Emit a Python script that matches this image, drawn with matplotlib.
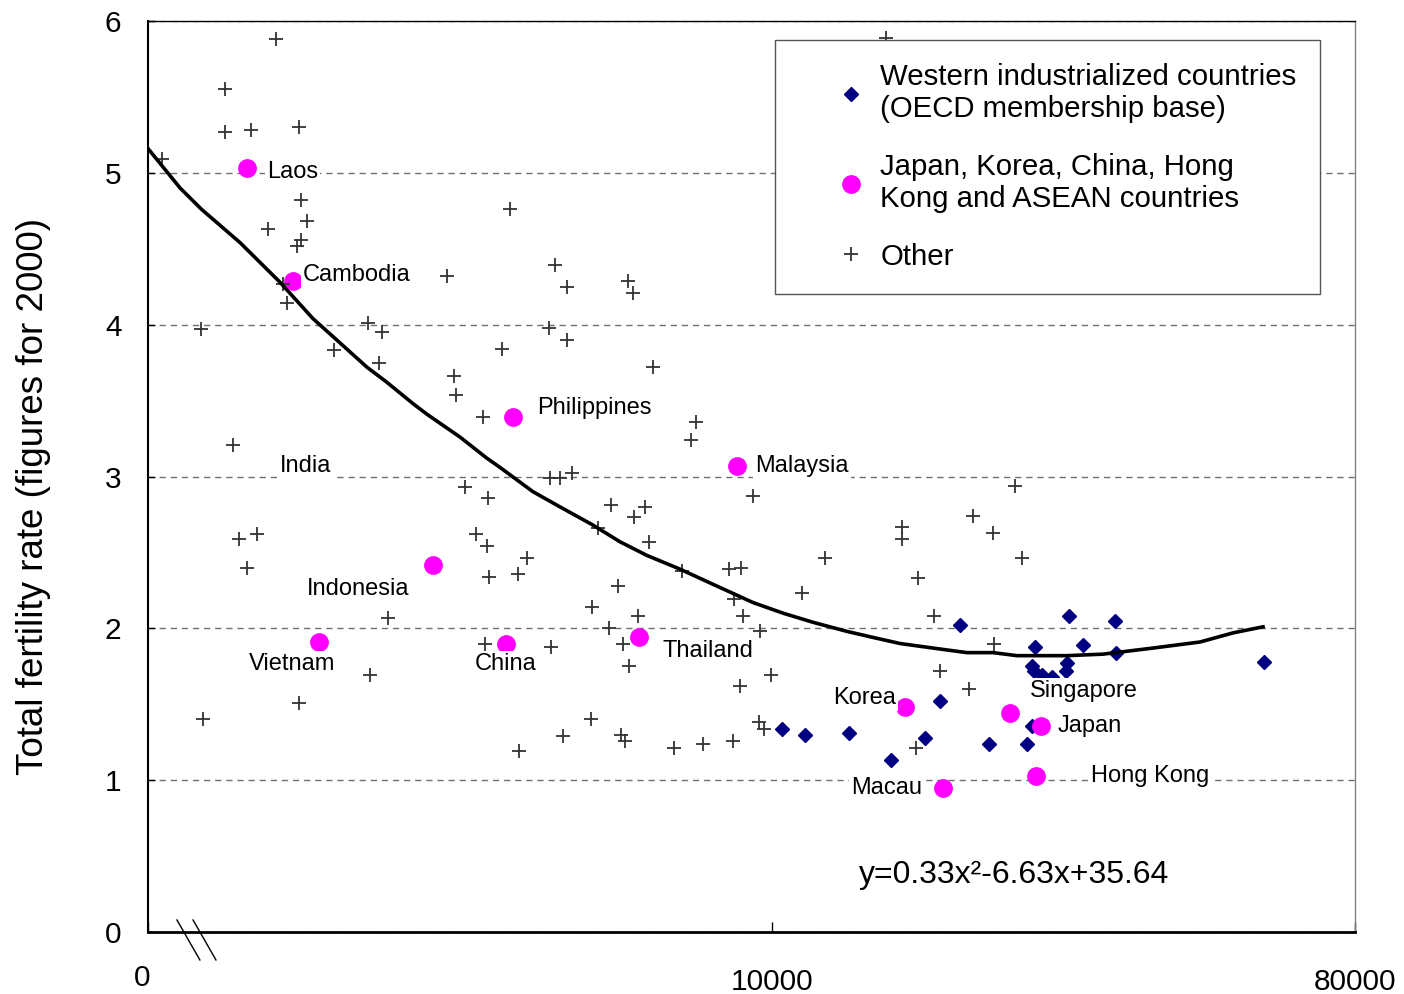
import numpy as np
import matplotlib
matplotlib.use('Agg')
import matplotlib.pyplot as plt
from matplotlib.ticker import NullLocator
from matplotlib.transforms import ScaledTranslation

plt.rcParams['font.family'] = ['Liberation Sans', 'DejaVu Sans']

# GDP per capita (PPP, log axis) and total fertility rate, 2000
west_gdp = [10360, 11250, 13160, 15290, 17260, 18200, 19550, 28840, 33990, 25550,
            30320, 34110, 25280, 25460, 28640, 28530, 26200, 27150, 21680, 24830,
            25280, 57830]
west_tfr = [1.34, 1.30, 1.31, 1.13, 1.28, 1.52, 2.02, 2.08, 2.05, 1.88,
            1.89, 1.84, 1.75, 1.72, 1.77, 1.72, 1.69, 1.68, 1.24, 1.24,
            1.36, 1.78]

asia_names = ['Laos', 'Cambodia', 'Philippines', 'India', 'Malaysia', 'Indonesia',
              'Vietnam', 'China', 'Thailand', 'Korea', 'Singapore', 'Japan',
              'Hong Kong', 'Macau']
asia_gdp = [1538, 1811, 3970, 1890, 8826, 2984, 1987, 3872, 6223, 16070, 23370,
            26100, 25650, 18400]
asia_tfr = [5.03, 4.29, 3.39, 3.06, 3.07, 2.42, 1.91, 1.90, 1.94, 1.48, 1.44,
            1.36, 1.03, 0.95]
# label offsets (points) relative to each country's marker
label_dx = [14.4, 7.2, 17.3, -18, 13, -90.7, -50.4, -22.3, 16.6, -51.8, 14.4, 12.2, 39.6, -66.2]
label_dy = [-2.9, 4.3, 6.5, 0.7, 0, -17.3, -15.8, -15.1, -10.1, 6.5, 15.8, 0, 0, 0]

other_gdp = [1705, 1421, 1421, 1560, 1850, 1135, 1864, 1904, 1657, 1864,
             1837, 1748, 1773, 3137, 4612, 3928, 1305, 2367, 2489, 2097,
             2461, 3817, 4515, 3217, 3240, 3567, 1462, 3345, 3631, 4531,
             4694, 4899, 1494, 1594, 1538, 3479, 3618, 4173, 3644, 4041,
             2543, 3593, 4547, 2384, 1850, 1314, 4056, 4813, 5984, 6091,
             4813, 6541, 7626, 7490, 9344, 5632, 6356, 6113, 5376, 6448,
             15900, 15900, 12080, 16840, 7254, 8578, 8952, 5774, 5262, 6200,
             8732, 9016, 11130, 5592, 9581, 17820, 5878, 6005, 9964, 8920,
             18200, 5244, 4745, 5836, 5920, 7049, 7819, 8702, 9545, 9719,
             16720, 23790, 20480, 22000, 24390, 22080, 20190, 15020]
other_tfr = [5.88, 5.55, 5.27, 5.28, 5.30, 5.09, 4.82, 4.68, 4.63, 4.56,
             4.52, 4.27, 4.14, 4.32, 4.39, 4.76, 3.97, 4.01, 3.95, 3.83,
             3.75, 3.84, 3.98, 3.66, 3.54, 3.39, 3.21, 2.93, 2.86, 2.99,
             2.99, 3.02, 2.59, 2.62, 2.40, 2.62, 2.54, 2.46, 2.34, 2.36,
             2.07, 1.90, 1.88, 1.69, 1.51, 1.40, 1.19, 4.25, 4.29, 4.21,
             3.90, 3.72, 3.36, 3.24, 2.87, 2.81, 2.80, 2.73, 2.66, 2.57,
             2.67, 2.59, 2.46, 2.33, 2.38, 2.39, 2.40, 2.28, 2.14, 2.08,
             2.19, 2.08, 2.23, 2.00, 1.98, 2.08, 1.90, 1.75, 1.69, 1.62,
             1.72, 1.40, 1.29, 1.30, 1.26, 1.21, 1.24, 1.26, 1.38, 1.34,
             1.21, 2.94, 2.74, 2.63, 2.46, 1.90, 1.60, 5.89]

# fitted curve as drawn
fit_gdp = [1080, 1211, 1307, 1500, 1729, 1945, 2142, 2358, 2533, 2779, 2921,
           3286, 3618, 3790, 4263, 4694, 5281, 5815, 6402, 7202, 8102, 9344, 10400,
           11570, 13060, 14340, 15790, 17760, 20040, 22000, 23960, 28640, 32570,
           38910, 46030, 51780, 57630]
fit_tfr = [5.16, 4.90, 4.76, 4.54, 4.28, 4.04, 3.88, 3.72, 3.62, 3.48, 3.41,
           3.26, 3.12, 3.06, 2.90, 2.80, 2.68, 2.57, 2.48, 2.39, 2.29, 2.17, 2.10,
           2.04, 1.98, 1.94, 1.90, 1.87, 1.84, 1.84, 1.82, 1.82, 1.83,
           1.87, 1.91, 1.97, 2.01]

fig = plt.figure(figsize=(14.04, 9.94), dpi=100)
ax = fig.add_axes([148 / 1404, 1 - 932 / 994, 1207 / 1404, 911 / 994])

ax.plot(fit_gdp, fit_tfr, color='black', lw=2.6, zorder=4)
ax.plot(west_gdp, west_tfr, 'D', color='#000080', markersize=7.5, ls='none', zorder=3,
        label='Western industrialized countries\n(OECD membership base)')
ax.plot(asia_gdp, asia_tfr, 'o', color='#FF00FF', markersize=12.5, ls='none', zorder=3,
        label='Japan, Korea, China, Hong\nKong and ASEAN countries')
ax.plot(other_gdp, other_tfr, '+', color='#333333', markersize=9.5, mew=1.3, ls='none',
        zorder=3, label='Other')

for name, gx, ty, dx, dy in zip(asia_names, asia_gdp, asia_tfr, label_dx, label_dy):
    ax.annotate(name, (gx, ty), xytext=(dx, dy), textcoords='offset points',
                ha='left', va='center', fontsize=17, zorder=6,
                bbox=dict(facecolor='white', edgecolor='none', pad=1.5))

ax.text(0.589, 0.063, 'y=0.33x²-6.63x+35.64', transform=ax.transAxes,
        fontsize=23, ha='left', va='center')

ax.set_xscale('log')
ax.set_xlim(1080, 80000)
ax.set_ylim(0, 6)
ax.set_xticks([1080, 10000, 80000])
ax.set_xticklabels(['0', '10000', '80000'])
ax.xaxis.set_minor_locator(NullLocator())
ax.set_yticks(range(7))
ax.tick_params(axis='x', direction='in', length=7, width=1, labelsize=21.5, pad=26)
ax.tick_params(axis='y', direction='in', length=5, width=1, labelsize=21.5, pad=19)
first = ax.get_xticklabels()[0]
first.set_transform(first.get_transform() + ScaledTranslation(-6 / 100, 4 / 100, fig.dpi_scale_trans))

ax.yaxis.grid(True, color='#707070', lw=1, linestyle=(0, (4.5, 3.5)))
ax.set_axisbelow(True)

ax.set_ylabel('Total fertility rate (figures for 2000)', fontsize=26.5)
ax.yaxis.set_label_coords(-0.080, 0.478)

ax.spines['left'].set_linewidth(1.5)
ax.spines['bottom'].set_linewidth(2)
ax.spines['top'].set_linewidth(1)
ax.spines['right'].set_linewidth(1)
ax.spines['right'].set_color('#808080')

# axis break marks
for x0 in (0.024, 0.0373):
    ax.plot([x0, x0 + 0.019], [0.0132, -0.0307], color='black', lw=1,
            transform=ax.transAxes, clip_on=False)

leg = ax.legend(loc='upper left', bbox_to_anchor=(775 / 1404, 1 - 40 / 994),
                bbox_transform=fig.transFigure, fontsize=21.2, frameon=True,
                fancybox=False, edgecolor='#555555', framealpha=1,
                borderpad=0.78, labelspacing=1.0, handlelength=3.6,
                handletextpad=-0.8, borderaxespad=0)
leg.get_frame().set_linewidth(1)
leg.set_zorder(7)

plt.savefig('out.png', dpi=100)
